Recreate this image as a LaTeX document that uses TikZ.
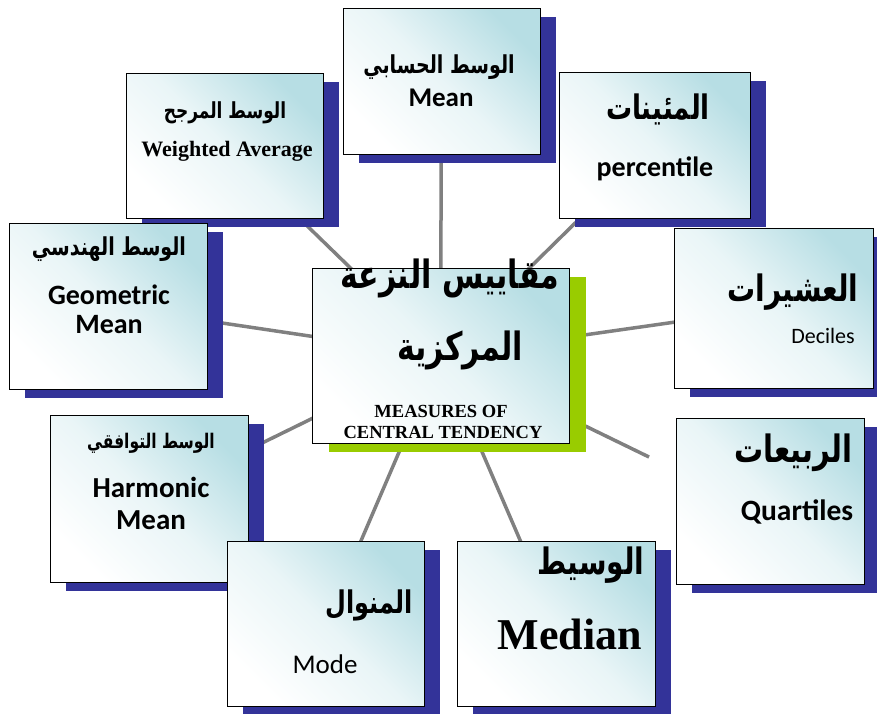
\documentclass[tikz,border=0pt]{standalone}
\usepackage{fontspec}
\usepackage{graphicx}
\setmainfont{Liberation Serif}
\newfontfamily\arabicfont[Script=Arabic]{DejaVu Sans}
\newfontfamily\calibri{Carlito}
\TeXXeTstate=1
\usetikzlibrary{shadows, backgrounds}

\definecolor{boxteal}{RGB}{183,222,228}
\definecolor{shadenavy}{RGB}{51,51,153}
\definecolor{shadegreen}{RGB}{153,204,0}
\definecolor{linkgray}{RGB}{128,128,128}

% arabic line, a bit taller than the font draws it
\newcommand{\rtl}[1]{\scalebox{1}[1.3]{\beginR #1\endR}}

\tikzset{
	card/.style={draw=black, line width=1pt, inner sep=0pt,
		top color=boxteal, bottom color=white, middle color=boxteal!30!white, shading angle=-45,
		drop shadow={shadow xshift=16pt, shadow yshift=-9pt, fill=shadenavy, opacity=1}},
	hub/.style={draw=black, line width=1pt, inner sep=0pt,
		top color=boxteal, bottom color=white, middle color=boxteal!30!white, shading angle=-45,
		drop shadow={shadow xshift=17pt, shadow yshift=-9pt, fill=shadegreen, opacity=1}},
	link/.style={draw=linkgray, line width=3.5pt},
	ar/.style={font=\arabicfont\bfseries\fontsize{#1}{#1}\selectfont, inner sep=0pt},
	cb/.style={font=\calibri\bfseries\fontsize{#1}{#1}\selectfont, anchor=base, inner sep=0pt},
	cr/.style={font=\calibri\fontsize{#1}{#1}\selectfont, anchor=base, inner sep=0pt},
	tb/.style={font=\bfseries\fontsize{#1}{#1}\selectfont, anchor=base, inner sep=0pt}
}

\begin{document}
\begin{tikzpicture}[x=1pt, y=-1pt]
	\useasboundingbox (0,0) rectangle (877,713);
	
	% boxes
	\node [card, minimum width=197pt, minimum height=146pt] (mean) at (441.5,81) {};
	\node [card, minimum width=197pt, minimum height=145pt] (wavg) at (224.5,145.5) {};
	\node [card, minimum width=191pt, minimum height=146pt] (pct) at (654.5,145) {};
	\node [card, minimum width=198pt, minimum height=166pt] (geo) at (108,306) {};
	\node [card, minimum width=199pt, minimum height=160pt] (dec) at (773.5,308) {};
	\node [card, minimum width=198pt, minimum height=167pt] (harm) at (149,498.5) {};
	\node [card, minimum width=188pt, minimum height=166pt] (quart) at (770,501) {};
	\node [card, minimum width=197pt, minimum height=165pt] (mode) at (325.5,623.5) {};
	\node [card, minimum width=198pt, minimum height=165pt] (median) at (556,623.5) {};
	\node [hub, minimum width=257pt, minimum height=175pt] (cmt) at (440.5,355.5) {};
	
	\coordinate (qend) at (649,457);
	
	% spokes
	\begin{scope}[on background layer]
		\foreach \b in {mean, wavg, pct, geo, dec, harm, mode, median}
		\draw [link] (cmt.center) -- (\b.center);
		\draw [link] (cmt.center) -- (qend);
	\end{scope}
	
	% texts
	\node [ar=19] (meanAr) at (439,67) {\rtl{الوسط الحسابي}};
	\node [cb=27] (meanEn) at (441,106) {Mean};
	
	\node [ar=17] (wavgAr) at (225,113) {\rtl{الوسط المرجح}};
	\node [tb=22] (wavgEn) at (227,156) {Weighted Average};
	
	\node [ar=26] (pctAr) at (658,109) {\rtl{المئينات}};
	\node [cb=28] (pctEn) at (655,176) {percentile};
	
	\node [ar=19] (geoAr) at (109,249) {\rtl{الوسط الهندسي}};
	\node [cb=28] (geoEn) at (109,304) {Geometric};
	\node [cb=28] (geoEnb) at (109,333) {Mean};
	
	\node [ar=28] (decAr) at (793,292) {\rtl{العشيرات}};
	\node [cr=22] (decEn) at (823,343) {Deciles};
	
	\node [ar=15.5] (harmAr) at (151,443) {\rtl{الوسط التوافقي}};
	\node [cb=29] (harmEn) at (151,497) {Harmonic};
	\node [cb=29] (harmEnb) at (151,529) {Mean};
	
	\node [ar=29] (quartAr) at (793,453) {\rtl{الربيعات}};
	\node [cb=29.5] (quartEn) at (797,520) {Quartiles};
	
	\node [ar=24] (modeAr) at (369,605) {\rtl{المنوال}};
	\node [cr=27] (modeEn) at (325,673) {Mode};
	
	\node [ar=28] (medianAr) at (591,565) {\rtl{الوسيط}};
	\node [tb=44] (medianEn) at (570,649) {Median};
	
	\node [ar=30] (cmtAr) at (450,278) {\rtl{مقاييس النزعة}};
	\node [ar=30] (cmtArb) at (460,350) {\rtl{المركزية}};
	\node [tb=18.5] (cmtEn) at (441,417) {MEASURES OF};
	\node [tb=18.5] (cmtEnb) at (443,438) {CENTRAL TENDENCY};
\end{tikzpicture}
\end{document}
